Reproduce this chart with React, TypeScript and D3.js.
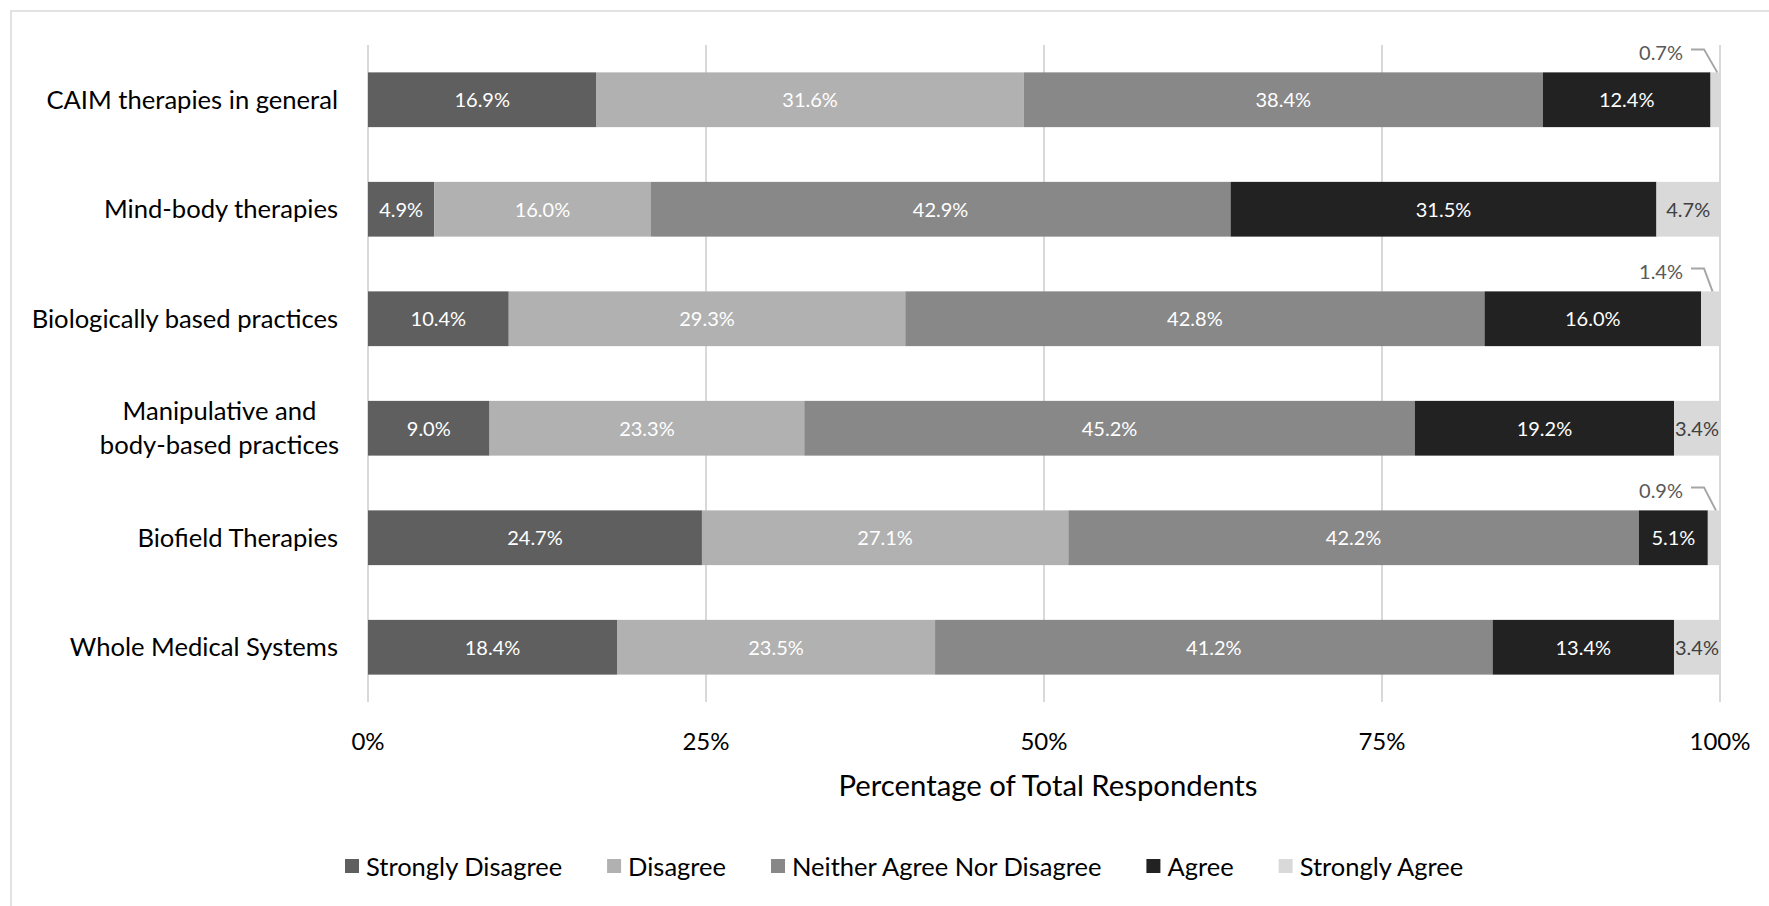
import React, { useLayoutEffect, useRef, useState } from "react";
import * as d3 from "d3";

const categories = [
  "CAIM therapies in general",
  "Mind-body therapies",
  "Biologically based practices",
  "Manipulative and body-based practices",
  "Biofield Therapies",
  "Whole Medical Systems",
];
const categoryLines: string[][] = [
  ["CAIM therapies in general"],
  ["Mind-body therapies"],
  ["Biologically based practices"],
  ["Manipulative and", "body-based practices"],
  ["Biofield Therapies"],
  ["Whole Medical Systems"],
];
const seriesNames = ["Strongly Disagree", "Disagree", "Neither Agree Nor Disagree", "Agree", "Strongly Agree"];
const stronglyDisagree = [16.9, 4.9, 10.4, 9.0, 24.7, 18.4];
const disagree = [31.6, 16.0, 29.3, 23.3, 27.1, 23.5];
const neither = [38.4, 42.9, 42.8, 45.2, 42.2, 41.2];
const agree = [12.4, 31.5, 16.0, 19.2, 5.1, 13.4];
const stronglyAgree = [0.7, 4.7, 1.4, 3.4, 0.9, 3.4];
const seriesValues = [stronglyDisagree, disagree, neither, agree, stronglyAgree];
const seriesColors = ["#5f5f5f", "#b1b1b1", "#888888", "#222222", "#d9d9d9"];
const labelColors = ["#ffffff", "#ffffff", "#ffffff", "#ffffff", "#404040"];
const tickValues = [0, 0.25, 0.5, 0.75, 1];
const axisTitle = "Percentage of Total Respondents";

const FONT = "Lato, 'Open Sans', sans-serif";

export default function App() {
  const W = 1769;
  const H = 906;
  const x = d3.scaleLinear().domain([0, 1]).range([368, 1720]);
  const y = d3.scaleBand<string>().domain(categories).range([45, 702]).paddingInner(0.5).paddingOuter(0.25);

  const rows = categories.map((c, i) => {
    const r: any = { cat: c };
    seriesNames.forEach((s, k) => (r[s] = seriesValues[k][i]));
    return r;
  });
  const stacked = d3.stack<any>().keys(seriesNames).offset(d3.stackOffsetExpand)(rows);

  const legendRef = useRef<SVGGElement>(null);
  const catRef = useRef<SVGGElement>(null);
  const [legendX, setLegendX] = useState<number[]>([345, 607, 770, 1147, 1278]);
  const [multiCenter, setMultiCenter] = useState<number>(219);

  useLayoutEffect(() => {
    if (legendRef.current) {
      const texts = Array.from(legendRef.current.querySelectorAll("text")) as SVGTextElement[];
      const widths = texts.map((t) => t.getComputedTextLength());
      const sq = 14, gapText = 7, gapItem = 45;
      let cx = 345;
      const xs: number[] = [];
      widths.forEach((w) => {
        xs.push(cx);
        cx += sq + gapText + w + gapItem;
      });
      setLegendX(xs);
    }
    if (catRef.current) {
      const texts = Array.from(catRef.current.querySelectorAll("text.multi")) as SVGTextElement[];
      if (texts.length) {
        const maxW = Math.max(...texts.map((t) => t.getComputedTextLength()));
        setMultiCenter(339 - maxW / 2);
      }
    }
  }, []);

  const labelRight = 338;

  return (
    <div style={{ position: "absolute", left: 0, top: 0 }}>
      <svg width={W} height={H} style={{ display: "block", background: "#fff" }} fontFamily={FONT}>
        <rect x={11} y={11} width={W + 50} height={H + 50} fill="#fff" stroke="#d9d9d9" strokeWidth={1.5} />
        {/* gridlines */}
        <g>
          {tickValues.map((t) => (
            <line key={t} x1={x(t)} x2={x(t)} y1={45} y2={702} stroke="#d9d9d9" strokeWidth={2} />
          ))}
        </g>
        {/* bars */}
        <g>
          {stacked.map((layer, k) => (
            <g key={layer.key} fill={seriesColors[k]}>
              {layer.map((d, i) => (
                <rect
                  key={i}
                  x={x(d[0])}
                  y={y(categories[i])}
                  width={Math.max(0, x(d[1]) - x(d[0]))}
                  height={y.bandwidth()}
                />
              ))}
            </g>
          ))}
        </g>
        {/* data labels */}
        <g fontSize={20}>
          {stacked.map((layer, k) =>
            layer.map((d, i) => {
              const v = seriesValues[k][i];
              const x0 = x(d[0]);
              const x1 = x(d[1]);
              const top = y(categories[i])!;
              const cy = top + y.bandwidth() / 2;
              const text = v.toFixed(1) + "%";
              if (x1 - x0 >= 30) {
                return (
                  <text
                    key={`${k}-${i}`}
                    x={(x0 + x1) / 2}
                    y={cy + 7.5}
                    textAnchor="middle"
                    fill={labelColors[k]}
                  >
                    {text}
                  </text>
                );
              }
              const xr = x(1);
              const ly = top - 23;
              const pts: [number, number][] = [
                [xr - 29, ly],
                [xr - 16, ly],
                [(x0 + x1) / 2 + 2, top],
              ];
              return (
                <g key={`${k}-${i}`}>
                  <path d={d3.line()(pts) || ""} fill="none" stroke="#a6a6a6" strokeWidth={2} />
                  <text x={xr - 37} y={top - 20 + 7.5} textAnchor="end" fill="#595959">
                    {text}
                  </text>
                </g>
              );
            })
          )}
        </g>
        {/* category labels */}
        <g ref={catRef} fontSize={25.6} fill="#000">
          {categoryLines.map((lines, i) => {
            const cy = y(categories[i])! + y.bandwidth() / 2;
            if (lines.length === 1) {
              return (
                <text key={i} x={labelRight} y={cy + 9} textAnchor="end">
                  {lines[0]}
                </text>
              );
            }
            return lines.map((ln, j) => (
              <text
                key={`${i}-${j}`}
                className="multi"
                x={multiCenter}
                y={cy + 9 + (j - (lines.length - 1) / 2) * 34}
                textAnchor="middle"
              >
                {ln}
              </text>
            ));
          })}
        </g>
        {/* tick labels */}
        <g fontSize={24} fill="#000">
          {tickValues.map((t) => (
            <text key={t} x={x(t)} y={749.5} textAnchor="middle">
              {d3.format(".0%")(t)}
            </text>
          ))}
        </g>
        <text x={(x(0) + x(1)) / 2 + 4} y={796} fontSize={29.3} textAnchor="middle" fill="#000">
          {axisTitle}
        </text>
        {/* legend */}
        <g ref={legendRef} fontSize={25.5} fill="#000">
          {seriesNames.map((s, k) => (
            <g key={s}>
              <rect x={legendX[k]} y={859} width={14} height={14} fill={seriesColors[k]} />
              <text x={legendX[k] + 21} y={876}>
                {s}
              </text>
            </g>
          ))}
        </g>
      </svg>
    </div>
  );
}
